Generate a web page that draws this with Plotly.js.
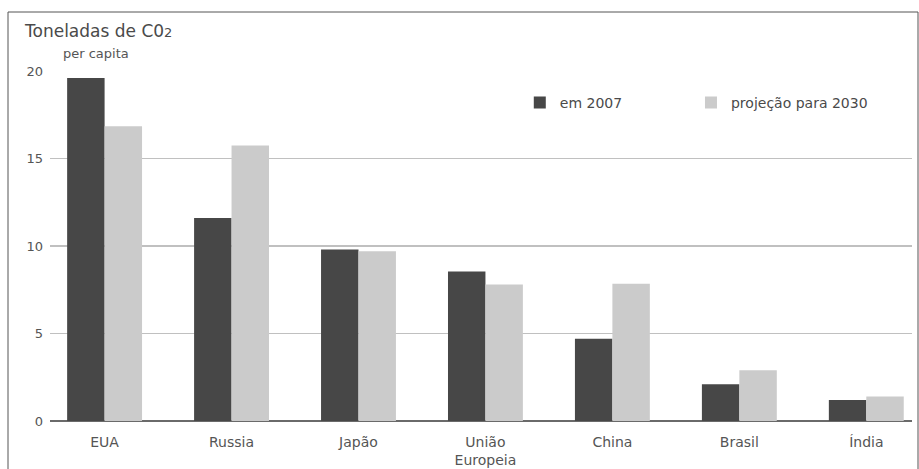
<!DOCTYPE html>
<html>
<head>
<meta charset="utf-8">
<script src="https://cdn.plot.ly/plotly-3.0.1.min.js"></script>
<style>html,body{margin:0;padding:0;background:#fff;overflow:hidden;}#chart{width:919px;height:469px;}</style>
</head>
<body>
<div id="chart"></div>
<script>
var categories = ["EUA", "Russia", "Japão", "União<br>Europeia", "China", "Brasil", "Índia"];
var values2007 = [19.6, 11.6, 9.8, 8.55, 4.7, 2.1, 1.2];
var values2030 = [16.85, 15.75, 9.7, 7.8, 7.85, 2.9, 1.4];
var seriesNames = ["em 2007", "projeção para 2030"];
var yTicks = [0, 5, 10, 15, 20];

var fontFam = "DejaVu Sans, Verdana, sans-serif";
var traces = [
  {type: "bar", name: seriesNames[0], x: categories, y: values2007,
   marker: {color: "#474747"}, hoverinfo: "none", legend: "legend", showlegend: true},
  {type: "bar", name: seriesNames[1], x: categories, y: values2030,
   marker: {color: "#cbcbcb"}, hoverinfo: "none", legend: "legend2", showlegend: true}
];
var legendStyle = function (xpos) {
  return {orientation: "h", x: xpos, xanchor: "left", y: 0.909, yanchor: "middle",
          font: {size: 14, color: "#4a4a4a"}, bgcolor: "rgba(0,0,0,0)", visible: true};
};
var layout = {
  width: 919, height: 469,
  showlegend: true,
  margin: {l: 50, r: 7, t: 71, b: 48, autoexpand: false},
  paper_bgcolor: "#fff", plot_bgcolor: "#fff",
  barmode: "group", bargap: 0.41, bargroupgap: 0,
  font: {family: fontFam, color: "#555", size: 14},
  title: {text: "Toneladas de C0<span style=\"font-size:13px\">2</span>",
          x: 25/919, xanchor: "left", xref: "container",
          y: 1 - 31/469, yanchor: "middle", yref: "container",
          font: {family: fontFam, size: 17, color: "#4a4a4a"}},
  xaxis: {type: "category", range: [-0.43, 6.36], showgrid: false,
          showline: false, ticks: "", zeroline: false,
          ticklabelstandoff: 11, tickfont: {size: 14, color: "#555"}},
  yaxis: {range: [0, 20], tickvals: yTicks, showgrid: true,
          gridcolor: "#c0c0c0", gridwidth: 1.5, zeroline: true,
          zerolinecolor: "#6a6a6a", zerolinewidth: 2, showline: false,
          ticks: "", ticklabelstandoff: 6, tickfont: {size: 13, color: "#555"}},
  legend: legendStyle(0.545),
  legend2: legendStyle(0.7436),
  annotations: [
    {text: "per capita", xref: "paper", yref: "paper",
     x: (61 - 50) / 862, y: (421 - 53) / 350, xanchor: "left", yanchor: "middle",
     showarrow: false, font: {size: 13, color: "#555"}}
  ],
  shapes: [
    {type: "rect", xref: "paper", yref: "paper",
     x0: (8 - 50) / 862, x1: (918 - 50) / 862, y0: -0.3, y1: (421 - 12) / 350,
     line: {color: "#555", width: 1}, layer: "below"}
  ]
};
Plotly.newPlot("chart", traces, layout, {displayModeBar: false, staticPlot: true});
</script>
</body>
</html>
